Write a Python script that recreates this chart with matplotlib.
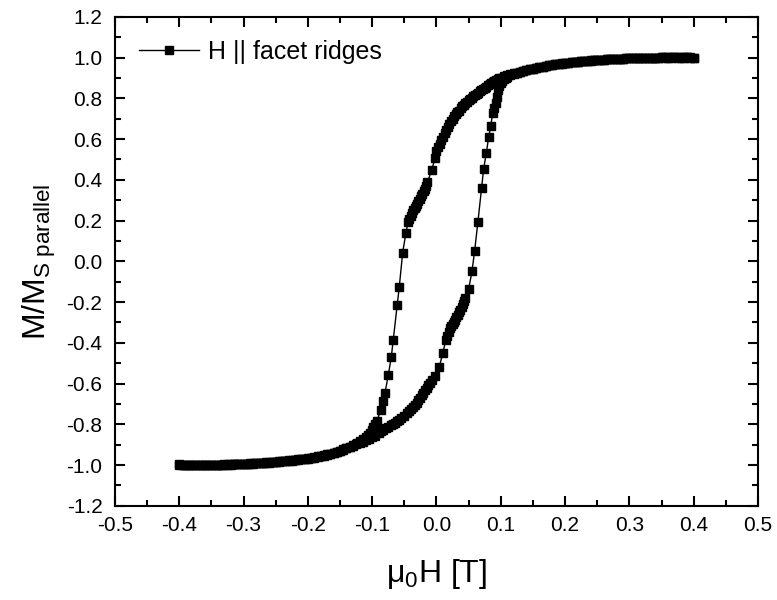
import matplotlib
matplotlib.use("Agg")
import matplotlib.pyplot as plt
from matplotlib.ticker import MultipleLocator, FormatStrFormatter

plt.rcParams["font.family"] = ["Liberation Sans", "DejaVu Sans"]
plt.rcParams["mathtext.fontset"] = "custom"
plt.rcParams["mathtext.rm"] = "Liberation Sans"
plt.rcParams["mathtext.it"] = "Liberation Sans"

# Descending branch: field swept from +0.4 T down to -0.4 T
h_down = [
    0.400, 0.395, 0.390, 0.385, 0.380, 0.375, 0.370, 0.365, 0.360, 0.355,
    0.350, 0.345, 0.340, 0.335, 0.330, 0.325, 0.320, 0.315, 0.310, 0.305,
    0.300, 0.295, 0.290, 0.285, 0.280, 0.275, 0.270, 0.265, 0.260, 0.255,
    0.250, 0.245, 0.240, 0.235, 0.230, 0.225, 0.220, 0.215, 0.210, 0.205,
    0.200, 0.195, 0.190, 0.185, 0.180, 0.175, 0.170, 0.165, 0.160, 0.155,
    0.150, 0.145, 0.140, 0.135, 0.130, 0.125, 0.120, 0.115, 0.110, 0.105,
    0.100, 0.0975, 0.095, 0.0925, 0.090, 0.0875, 0.085, 0.0825, 0.080, 0.0775,
    0.075, 0.0725, 0.070, 0.0675, 0.065, 0.0625, 0.060, 0.0575, 0.055, 0.0525,
    0.050, 0.0475, 0.045, 0.0425, 0.040, 0.0375, 0.035, 0.0325, 0.030, 0.0275,
    0.025, 0.0225, 0.020, 0.0175, 0.015, 0.0125, 0.010, 0.0075, 0.005, 0.0025,
    0.000, -0.002, -0.0075, -0.014, -0.016, -0.018, -0.020, -0.022, -0.024, -0.026,
    -0.028, -0.030, -0.032, -0.034, -0.036, -0.038, -0.040, -0.042, -0.044, -0.0474,
    -0.0526, -0.0578, -0.061, -0.0672, -0.0703, -0.075, -0.080, -0.0837, -0.0868, -0.093,
    -0.0955, -0.098, -0.1005, -0.103, -0.106, -0.110, -0.114, -0.119, -0.124, -0.130,
    -0.135, -0.140, -0.145, -0.150, -0.155, -0.160, -0.165, -0.170, -0.175, -0.180,
    -0.185, -0.190, -0.195, -0.200, -0.205, -0.210, -0.215, -0.220, -0.225, -0.230,
    -0.235, -0.240, -0.245, -0.250, -0.255, -0.260, -0.265, -0.270, -0.275, -0.280,
    -0.285, -0.290, -0.295, -0.300, -0.305, -0.310, -0.315, -0.320, -0.325, -0.330,
    -0.335, -0.340, -0.345, -0.350, -0.355, -0.360, -0.365, -0.370, -0.375, -0.380,
    -0.385, -0.390, -0.395, -0.400]
m_down = [
    1.000, 1.001, 1.002, 1.000, 1.001, 1.002, 1.001, 1.000, 1.001, 1.000,
    1.001, 0.999, 1.000, 0.999, 0.999, 0.998, 0.998, 0.998, 0.997, 0.997,
    0.996, 0.996, 0.995, 0.994, 0.994, 0.993, 0.992, 0.991, 0.990, 0.989,
    0.988, 0.986, 0.985, 0.984, 0.982, 0.981, 0.979, 0.977, 0.976, 0.974,
    0.972, 0.970, 0.968, 0.966, 0.963, 0.961, 0.958, 0.955, 0.952, 0.949,
    0.946, 0.942, 0.939, 0.935, 0.931, 0.926, 0.922, 0.917, 0.912, 0.907,
    0.902, 0.899, 0.895, 0.890, 0.885, 0.880, 0.874, 0.869, 0.863, 0.857,
    0.851, 0.846, 0.840, 0.834, 0.828, 0.822, 0.816, 0.810, 0.803, 0.797,
    0.790, 0.784, 0.777, 0.769, 0.760, 0.750, 0.740, 0.731, 0.721, 0.711,
    0.700, 0.687, 0.673, 0.659, 0.645, 0.628, 0.611, 0.595, 0.578, 0.562,
    0.540, 0.506, 0.449, 0.387, 0.370, 0.356, 0.344, 0.332, 0.320, 0.307,
    0.295, 0.283, 0.272, 0.262, 0.251, 0.238, 0.224, 0.210, 0.195, 0.141,
    0.043, -0.124, -0.213, -0.385, -0.470, -0.560, -0.644, -0.688, -0.732, -0.786,
    -0.800, -0.815, -0.830, -0.843, -0.852, -0.864, -0.874, -0.884, -0.893, -0.902,
    -0.910, -0.917, -0.923, -0.929, -0.934, -0.939, -0.944, -0.948, -0.952, -0.955,
    -0.958, -0.961, -0.964, -0.966, -0.968, -0.970, -0.972, -0.974, -0.976, -0.977,
    -0.979, -0.980, -0.982, -0.983, -0.985, -0.986, -0.987, -0.988, -0.989, -0.990,
    -0.991, -0.992, -0.993, -0.994, -0.995, -0.995, -0.996, -0.996, -0.997, -0.997,
    -0.998, -0.998, -0.999, -0.999, -0.999, -0.999, -1.000, -1.000, -0.999, -0.999,
    -1.000, -1.000, -0.999, -0.998]

# Ascending branch: field swept from -0.4 T back up to +0.4 T
h_up = [
    -0.400, -0.395, -0.390, -0.385, -0.380, -0.375, -0.370, -0.365, -0.360, -0.355,
    -0.350, -0.345, -0.340, -0.335, -0.330, -0.325, -0.320, -0.315, -0.310, -0.305,
    -0.300, -0.295, -0.290, -0.285, -0.280, -0.275, -0.270, -0.265, -0.260, -0.255,
    -0.250, -0.245, -0.240, -0.235, -0.230, -0.225, -0.220, -0.215, -0.210, -0.205,
    -0.200, -0.195, -0.190, -0.185, -0.180, -0.175, -0.170, -0.165, -0.160, -0.155,
    -0.150, -0.145, -0.140, -0.135, -0.130, -0.125, -0.119, -0.115, -0.110, -0.105,
    -0.100, -0.095, -0.090, -0.086, -0.083, -0.079, -0.075, -0.071, -0.068, -0.065,
    -0.062, -0.058, -0.055, -0.051, -0.046, -0.043, -0.040, -0.036, -0.033, -0.031,
    -0.028, -0.025, -0.0225, -0.0205, -0.018, -0.015, -0.0125, -0.010, -0.0065, -0.0023,
    0.0044, 0.0096, 0.0148, 0.017, 0.019, 0.021, 0.023, 0.025, 0.027, 0.029,
    0.031, 0.033, 0.035, 0.0365, 0.039, 0.041, 0.043, 0.045, 0.050, 0.0552,
    0.0594, 0.0645, 0.0703, 0.0734, 0.0775, 0.0812, 0.0843, 0.0874, 0.090, 0.0925,
    0.094, 0.096, 0.098, 0.100, 0.1025, 0.105, 0.1075, 0.110, 0.115, 0.120,
    0.125, 0.130, 0.135, 0.140, 0.145, 0.150, 0.155, 0.160, 0.165, 0.170,
    0.175, 0.180, 0.185, 0.190, 0.195, 0.200, 0.205, 0.210, 0.215, 0.220,
    0.225, 0.230, 0.235, 0.240, 0.245, 0.250, 0.255, 0.260, 0.265, 0.270,
    0.275, 0.280, 0.285, 0.290, 0.295, 0.300, 0.305, 0.310, 0.315, 0.320,
    0.325, 0.330, 0.335, 0.340, 0.345, 0.350, 0.355, 0.360, 0.365, 0.370,
    0.375, 0.380, 0.385, 0.390, 0.395, 0.400]
m_up = [
    -0.996, -0.998, -0.999, -1.000, -1.001, -1.000, -1.000, -1.001, -1.001, -1.000,
    -1.000, -0.999, -0.999, -0.999, -0.999, -0.998, -0.998, -0.997, -0.997, -0.996,
    -0.996, -0.995, -0.994, -0.993, -0.992, -0.991, -0.990, -0.989, -0.988, -0.987,
    -0.985, -0.984, -0.982, -0.981, -0.979, -0.978, -0.976, -0.974, -0.972, -0.970,
    -0.968, -0.966, -0.963, -0.961, -0.958, -0.955, -0.951, -0.947, -0.943, -0.938,
    -0.933, -0.926, -0.918, -0.911, -0.905, -0.899, -0.892, -0.886, -0.879, -0.871,
    -0.864, -0.855, -0.845, -0.835, -0.827, -0.820, -0.812, -0.804, -0.798, -0.792,
    -0.786, -0.777, -0.769, -0.758, -0.745, -0.737, -0.727, -0.714, -0.703, -0.696,
    -0.683, -0.670, -0.658, -0.647, -0.634, -0.620, -0.609, -0.598, -0.583, -0.565,
    -0.519, -0.451, -0.385, -0.367, -0.347, -0.328, -0.317, -0.307, -0.297, -0.287,
    -0.275, -0.262, -0.250, -0.238, -0.224, -0.210, -0.196, -0.181, -0.137, -0.050,
    0.053, 0.195, 0.362, 0.455, 0.531, 0.610, 0.662, 0.727, 0.752, 0.776,
    0.806, 0.842, 0.862, 0.875, 0.885, 0.893, 0.899, 0.905, 0.912, 0.918,
    0.924, 0.929, 0.934, 0.938, 0.942, 0.946, 0.950, 0.953, 0.956, 0.959,
    0.962, 0.964, 0.967, 0.969, 0.971, 0.973, 0.975, 0.977, 0.979, 0.980,
    0.982, 0.983, 0.985, 0.986, 0.987, 0.988, 0.989, 0.990, 0.991, 0.992,
    0.993, 0.994, 0.994, 0.995, 0.996, 0.996, 0.997, 0.997, 0.998, 0.998,
    0.999, 0.999, 0.999, 1.000, 1.000, 1.001, 1.001, 1.000, 1.001, 1.001,
    1.000, 1.000, 1.001, 1.001, 1.000, 1.000]

x_ticks = [-0.5, -0.4, -0.3, -0.2, -0.1, 0.0, 0.1, 0.2, 0.3, 0.4, 0.5]
y_ticks = [-1.2, -1.0, -0.8, -0.6, -0.4, -0.2, 0.0, 0.2, 0.4, 0.6, 0.8, 1.0, 1.2]

field = h_down + h_up
magnetization = m_down + m_up

fig = plt.figure(figsize=(7.77, 6.0), dpi=100)
ax = fig.add_axes([0.148, 0.157, 0.8275, 0.815])

ax.plot(field, magnetization, color="black", linewidth=1.0, marker="s",
        markersize=6.0, markerfacecolor="black", markeredgecolor="black",
        label="H || facet ridges")

ax.set_xlim(-0.5, 0.5)
ax.set_ylim(-1.2, 1.2)
ax.set_xticks(x_ticks)
ax.set_yticks(y_ticks)
ax.xaxis.set_minor_locator(MultipleLocator(0.05))
ax.yaxis.set_minor_locator(MultipleLocator(0.1))
ax.xaxis.set_major_formatter(FormatStrFormatter("%.1f"))
ax.yaxis.set_major_formatter(FormatStrFormatter("%.1f"))

ax.tick_params(which="both", direction="in", top=True, right=True, width=1.5,
               labelsize=15)
ax.tick_params(axis="x", pad=7)
ax.tick_params(axis="y", pad=9)
ax.tick_params(which="major", length=7)
ax.tick_params(which="minor", length=4)
for s in ax.spines.values():
    s.set_linewidth(1.5)

ax.set_xlabel(r"$\mathregular{\mu_0}$H [T]", fontsize=23, labelpad=16)
ax.set_ylabel(r"M/M$\mathregular{_{S\ parallel}}$", fontsize=23, labelpad=6)

ax.legend(loc="center left", bbox_to_anchor=(0.022, 0.928), frameon=False,
          fontsize=18, handlelength=2.4, handletextpad=0.35, borderaxespad=0)

fig.savefig("out.png", dpi=100)
